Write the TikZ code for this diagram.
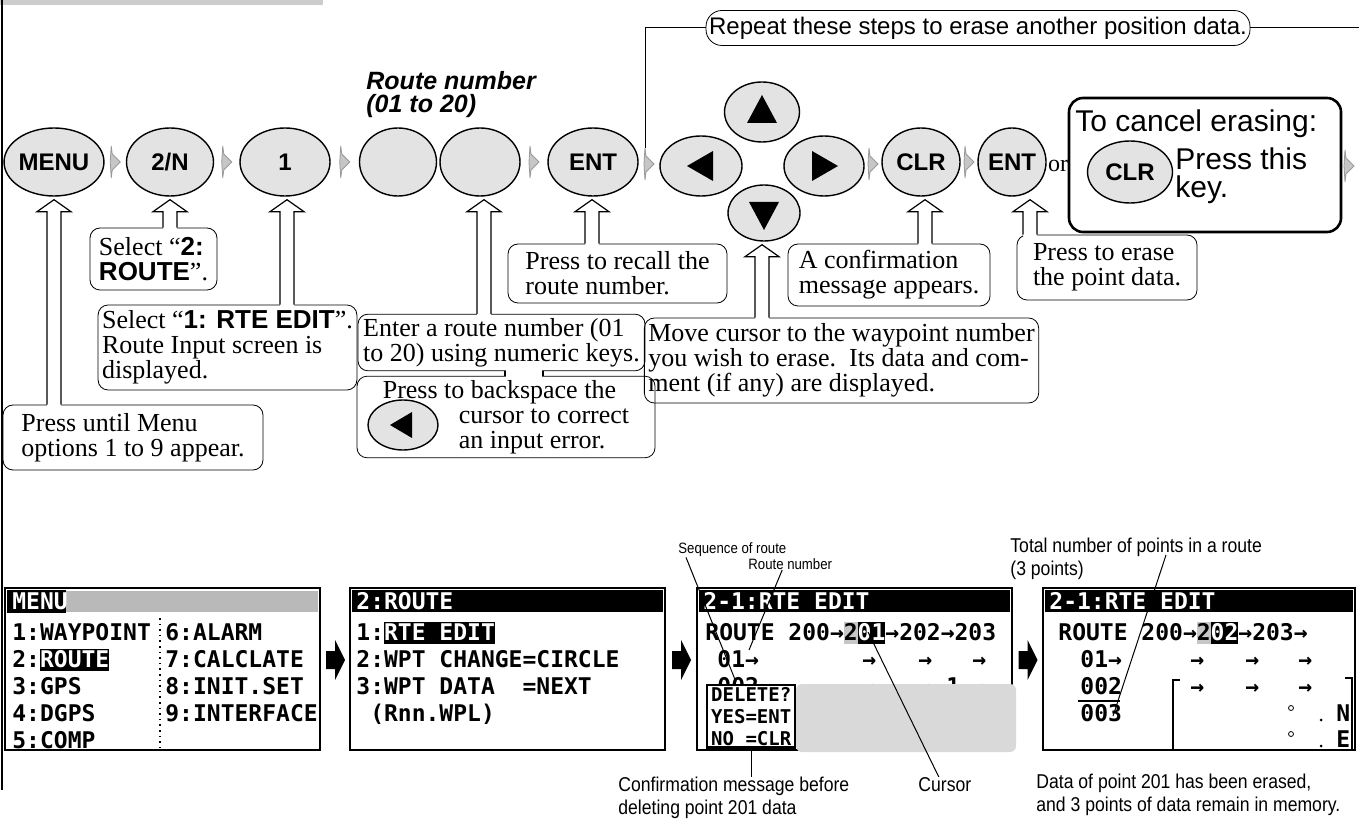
\documentclass[tikz,border=0pt]{standalone}
\usepackage{fontspec}
\setmainfont{Liberation Serif}
\setsansfont{Liberation Sans}
\newfontfamily\narrowsf{Liberation Sans}[FakeStretch=0.88]
\newfontfamily\lcdfont{DejaVu Sans Mono}
\usetikzlibrary{positioning,calc,shapes.geometric}

\newcommand\hl[1]{{\setlength\fboxsep{0pt}\colorbox{black}{\color{white}\rule[-1.8pt]{0pt}{10.6pt}#1}}}
\newcommand\hg[1]{{\setlength\fboxsep{0pt}\colorbox{gray!45}{\rule[-1.8pt]{0pt}{10.6pt}#1}}}

\tikzset{
  key/.style={ellipse, draw, line width=0.7pt, fill=gray!22, inner sep=0pt, minimum width=45pt, minimum height=34pt,
    font=\sffamily\bfseries\fontsize{12}{12}\selectfont},
  note/.style={draw, rounded corners=5pt, align=left, inner sep=2pt, font=\fontsize{13}{12.5}\selectfont},
  arrline/.style={line width=0.6pt},
  stepmk/.style={draw=gray!80, fill=gray!45, line width=0.4pt},
  screen/.style={draw, line width=1pt, inner sep=0pt, minimum height=81pt},
  lcd/.style={anchor=base west, inner sep=0pt, font=\lcdfont\bfseries\fontsize{11.5}{12}\selectfont},
  lcdw/.style={lcd, text=white},
  sflabel/.style={font=\narrowsf\fontsize{10}{11.5}\selectfont, align=left, inner sep=0pt},
  pointer/.style={line width=0.5pt},
}

% hollow arrow from a key up to its note
\newcommand\callarrow[3]{%
  \path (#3,0 |- #1.south) ++(0,3) coordinate (ctip);
  \path (ctip |- #2.north) coordinate (cbase);
  \fill[white] (ctip) -- ++(17,12) -- ++(-10,0) -- ($(cbase)+(7,1.5)$) -- ($(cbase)+(-7,1.5)$)
    -- ($(ctip)+(-7,12)$) -- ++(-10,0) -- cycle;
  \draw[arrline] (cbase) ++(7,0) -- ($(ctip)+(7,12)$) -- ++(10,0) -- (ctip) -- ++(-17,12)
    -- ++(10,0) -- ($(cbase)+(-7,0)$);
}
% small step mark between keys
\newcommand\stepmark[1]{%
  \draw[stepmk] (#1) ++(-4,-16) -- ++(1,8) -- ++(8,8) -- ++(-8,8) -- ++(-1,8) -- ++(-1,-16) -- cycle;}
% black arrow between screens
\newcommand\screenarrow[2]{%
  \fill ($(#1.east)!0.5!(#2.west)+(0,-9)$) ++(-9,-9) -- ++(9,0) -- ++(0,-11) -- ++(10,20)
    -- ++(-10,20) -- ++(0,-11) -- ++(-9,0) -- cycle;}

\begin{document}
\begin{tikzpicture}[x=0.5pt, y=-0.5pt]
\useasboundingbox (0,0) rectangle (1359,828);
% page bits
\fill[gray!40] (0,0) rectangle (323,5);
\draw[line width=0.8pt] (2,0) -- (2,790);

% keys
\node[key, minimum width=46pt] (menu) at (54,162) {MENU};
\node[key, minimum width=43.5pt] (kn2) at (170,162) {2/N};
\node[key] (kone) at (285,162) {1};
\node[key, minimum width=38.5pt] (digA) at (398,162) {};
\node[key, minimum width=40pt] (digB) at (480,162) {};
\node[key] (ent) at (593,162) {ENT};
\node[key, minimum width=37.5pt, minimum height=30pt] (kup) at (762,112) {};
\node[key, minimum width=41pt, minimum height=30pt] (kleft) at (701,166) {};
\node[key, minimum width=40pt, minimum height=30pt] (kright) at (824,166) {};
\node[key, minimum width=36pt, minimum height=28pt] (kdown) at (764,213) {};
\node[key, minimum width=39pt] (clr) at (921,162) {CLR};
\node[key, minimum width=34pt] (entB) at (1012,162) {ENT};
\node[font=\fontsize{12}{12}\selectfont, inner sep=0pt] (orword) at (1058,166) {or};
\fill (kleft.center) ++(-14,0) -- ++(26,-15) -- ++(0,30) -- cycle;
\fill (kright.center) ++(14,0) -- ++(-26,-15) -- ++(0,30) -- cycle;
\fill (kup.center) ++(0,-17) -- ++(15,28) -- ++(-30,0) -- cycle;
\fill (kdown.center) ++(0,17) -- ++(15,-28) -- ++(-30,0) -- cycle;

\node[anchor=north west, align=left, inner sep=0pt,
  font=\sffamily\bfseries\itshape\fontsize{12.5}{11.5}\selectfont] (rnTitle) at (366,71) {Route number\\(01 to 20)};

% step marks
\coordinate (s1) at ($(menu.east)!0.5!(kn2.west)$);
\coordinate (s2) at ($(kn2.east)!0.5!(kone.west)$);
\coordinate (s3) at ($(kone.east)!0.5!(digA.west)$);
\coordinate (s4) at ($(digB.east)!0.5!(ent.west)$);
\coordinate (s5) at ($(ent.east)!0.5!(kleft.west)$);
\coordinate (s6) at ($(kright.east)!0.5!(clr.west)$);
\coordinate (s7) at ($(clr.east)!0.5!(entB.west)$);
\coordinate (s8) at (1349,166);
\foreach \s in {s1,s2,s3,s4,s5,s6,s7,s8} \stepmark{\s};

% repeat loop
\node[draw, rounded corners=8pt, minimum width=272pt, minimum height=17.5pt, inner sep=0pt,
  font=\sffamily\fontsize{12}{12}\selectfont] (repeat) at (978,28) {Repeat these steps to erase another position data.};
\coordinate (rightEdge) at (1359,28);
\draw[pointer] (repeat.west) -| ($(s5)+(-4,-16)$);
\draw[pointer] (repeat.east) -- (rightEdge);

% cancel box
\node[draw, line width=1.3pt, rounded corners=7pt, minimum width=136pt, minimum height=67pt,
  inner sep=0pt] (cancelBox) at (1205,165) {};
\node[anchor=base west, inner sep=0pt, font=\sffamily\fontsize{15}{15}\selectfont] (cancelTitle) at (1075,132) {To cancel erasing:};
\node[key, minimum width=42.5pt, minimum height=31pt] (clrB) at (1130,172) {CLR};
\node[anchor=west, align=left, inner sep=0pt, font=\sffamily\fontsize{15}{14}\selectfont] (pressThis) at (1175,176) {Press this\\key.};

% notes
\node[note, minimum width=130pt, minimum height=32.5pt] (menuNote) at (133,437.5) {Press until Menu\\options 1 to 9 appear.};
\node[note, minimum width=63.5pt, minimum height=31pt] (routeNote) at (153.5,259) {Select “\textsf{\bfseries 2:}\\\textsf{\bfseries ROUTE}”.};
\node[note, minimum width=127.5pt, minimum height=42.5pt] (editNote) at (227.5,347.5) {Select “\textsf{\bfseries 1: RTE EDIT}”.\\Route Input screen is\\displayed.};
\node[note, minimum width=143.5pt, minimum height=24.5pt] (enterNote) at (501.5,342.5) {Enter a route number (01\\to 20) using numeric keys.};
\node[note, minimum width=149pt, minimum height=40pt] (backNote) at (506,417) {Press to backspace the\\\hspace*{38pt}cursor to correct\\\hspace*{38pt}an input error.};
\node[key, minimum width=35pt, minimum height=25pt] (bkey) at (403,425) {};
\fill (bkey.center) ++(-13,0) -- ++(22,-13) -- ++(0,26) -- cycle;
\node[note, minimum width=109.5pt, minimum height=29.5pt] (entNote) at (617.5,273.5) {Press to recall the\\route number.};
\node[note, minimum width=188.5pt, minimum height=42.5pt] (cursorNote) at (841.5,360.5) {Move cursor to the waypoint number\\you wish to erase.\ \ Its data and com-\\ment (if any) are displayed.};
\node[note, minimum width=101pt, minimum height=31pt] (clrNote) at (889,275) {A confirmation\\message appears.};
\node[note, minimum width=90pt, minimum height=32.5pt] (entBNote) at (1107,267.5) {Press to erase\\the point data.};

% arrows key -> note
\callarrow{menu}{menuNote}{54}
\callarrow{kn2}{routeNote}{170}
\callarrow{kone}{editNote}{287}
\callarrow{digB}{enterNote}{484}
\callarrow{ent}{entNote}{592}
\callarrow{kdown}{cursorNote}{762}
\callarrow{clr}{clrNote}{925}
\callarrow{entB}{entBNote}{1030}
\path (505,0 |- enterNote.south) coordinate (bA) (543,0 |- backNote.north) coordinate (bB);
\fill[white] ($(bA)+(0.8,-1.5)$) rectangle ($(bB)+(-0.8,1.5)$);
\draw[arrline] (bA) -- (bA |- bB) (bA -| bB) -- (bB);

% screens
\node[screen, minimum width=157.5pt] (scrA) at (162.5,669) {};
\node[screen, minimum width=157.5pt] (scrB) at (507.5,669) {};
\node[screen, minimum width=157.5pt] (scrC) at (854.5,669) {};
\node[screen, minimum width=156pt] (scrD) at (1199,669) {};
\screenarrow{scrA}{scrB}
\screenarrow{scrB}{scrC}
\screenarrow{scrC}{scrD}
\foreach \s in {scrB,scrC,scrD} \fill ($(\s.north west)+(3,3)$) rectangle ($(\s.north east)+(-3,25)$);
\fill ($(scrA.north west)+(3,3)$) rectangle (66,613);
\fill[gray!55] (66,591) rectangle ($(scrA.north east)+(-3,25)$);

% screen A: menu
\node[lcdw] (tA) at (12,609) {MENU};
\foreach \t [count=\i] in {1:WAYPOINT,2:\hl{ROUTE},3:GPS,4:DGPS,5:COMP}
  \node[lcd] (ma\i) at (12,613+27*\i) {\t};
\foreach \t [count=\i] in {6:ALARM,7:CALCLATE,8:INIT.SET,9:INTERFACE}
  \node[lcd] (mb\i) at (165,613+27*\i) {\t};
\draw[dotted, line width=0.8pt] (160,618) -- (160,748);

% screen B: route
\node[lcdw] (tB) at (356,609) {2:ROUTE};
\foreach \t [count=\i] in {1:\hl{RTE~EDIT},2:WPT~CHANGE=CIRCLE,3:WPT~DATA~~=NEXT,~(Rnn.WPL)}
  \node[lcd] (rb\i) at (356,613+27*\i) {\t};

% screen C: delete prompt
\node[lcdw] (tC) at (703,609) {2-1:RTE~EDIT};
\node[lcd] (cr1) at (705,640) {ROUTE~200→\hg{2}\hl{01}→202→203};
\node[lcd] (cr2) at (717,667) {01→};
\node[lcd] (cr3) at (717,694) {002};
\foreach \x [count=\i] in {862,918,972} {
  \node[lcd] (ca\i) at (\x,667) {→};
  \node[lcd] (cb\i) at (\x,694) {→};
}
\node[lcd] (cone) at (946,694) {1};
\fill[gray!30, rounded corners=3pt] (796,684) rectangle (1016,752);
\node[draw, line width=1.2pt, fill=white, anchor=north west, inner xsep=2pt, inner ysep=1pt, align=left,
  font=\lcdfont\bfseries\fontsize{9.5}{11}\selectfont] (delBox) at (706,684) {DELETE?\\YES=ENT\\NO~=CLR};

\node[sflabel, font=\narrowsf\fontsize{7.5}{8}\selectfont, anchor=west] (seqLabel) at (678,550) {Sequence of route};
\node[sflabel, font=\narrowsf\fontsize{7.5}{8}\selectfont, anchor=west] (rnLabel) at (748,564) {Route number};
\coordinate (seqPt) at (736,682);
\coordinate (rnPt) at (749,650);
\coordinate (cursorPt) at (868,632);
\draw[pointer] ($(seqLabel.south west)+(8,0)$) -- (seqPt);
\draw[pointer] ($(rnLabel.south)+(-8,0)$) -- (rnPt);
\node[sflabel, anchor=north west] (confLabel) at (618,777) {Confirmation message before\\deleting point 201 data};
\node[sflabel, anchor=north west] (cursorLabel) at (918,777) {Cursor};
\draw[pointer] (delBox.south) -- (delBox.south |- confLabel.north);
\draw[pointer] ($(cursorLabel.north)+(-6,0)$) -- (cursorPt);

% screen D: after erasing
\node[lcdw] (tD) at (1049,609) {2-1:RTE~EDIT};
\node[lcd] (dr1) at (1058,640) {ROUTE~200→\hg{2}\hl{02}→203→};
\node[lcd] (dr2) at (1080,667) {01→};
\node[lcd] (dr3) at (1080,694) {002};
\node[lcd] (dr4) at (1080,721) {003};
\foreach \x [count=\i] in {1190,1245,1298} {
  \node[lcd] (da\i) at (\x,667) {→};
  \node[lcd] (db\i) at (\x,694) {→};
}
\draw[line width=1.2pt] (1078,701) -- (1120,701);
\draw[line width=1pt] (1180,680) -- (1173,680) -- (1173,750) -- (1180,750);
\draw[line width=1pt] (1345,678) -- (1352,678) -- (1352,750) -- (1345,750);
\draw (1291,708) circle (2.5) (1291,734) circle (2.5);
\fill (1321,720) circle (1.5) (1321,746) circle (1.5);
\node[lcd] (nN) at (1336,721) {N};
\node[lcd] (nE) at (1336,747) {E};
\node[sflabel, anchor=north west] (totLabel) at (1010,538) {Total number of points in a route\\(3 points)};
\coordinate (totPt) at (1113,716);
\draw[pointer] ($(totLabel.north west)+(156,17)$) -- (totPt);
\node[sflabel, anchor=north west] (capLabel) at (1036,774) {Data of point 201 has been erased,\\and 3 points of data remain in memory.};
\end{tikzpicture}
\end{document}
